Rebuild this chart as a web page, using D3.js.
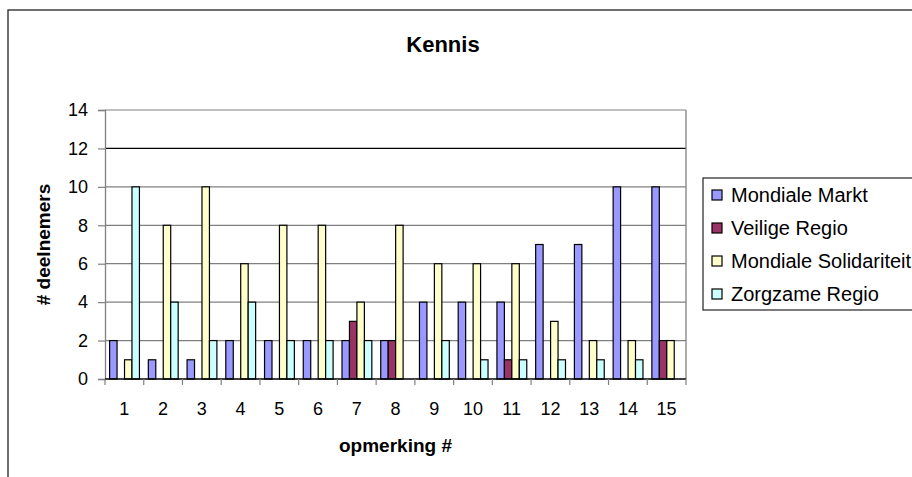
<!DOCTYPE html>
<html><head><meta charset="utf-8">
<script src="https://cdn.jsdelivr.net/npm/d3@7"></script>
<style>body{margin:0;background:#fff}svg{display:block;font-family:"Liberation Sans",Arial,sans-serif}</style>
</head><body><svg id="c" width="912" height="477"></svg>
<script>
const categories = ["1","2","3","4","5","6","7","8","9","10","11","12","13","14","15"];
const seriesNames = ["Mondiale Markt","Veilige Regio","Mondiale Solidariteit","Zorgzame Regio"];
const mondialeMarkt = [2,1,1,2,2,2,2,2,4,4,4,7,7,10,10];
const veiligeRegio = [0,0,0,0,0,0,3,2,0,0,1,0,0,0,2];
const mondialeSolidariteit = [1,8,10,6,8,8,4,8,6,6,6,3,2,2,2];
const zorgzameRegio = [10,4,2,4,2,2,2,0,2,1,1,1,1,1,0];
const yTicks = [0,2,4,6,8,10,12,14];
const colors = ["#9999FF","#993366","#FFFFCC","#CCFFFF"];
const values = [mondialeMarkt, veiligeRegio, mondialeSolidariteit, zorgzameRegio];

const svg = d3.select("#c");
const L=105, R=686, T=110, B=379;
// outer border
svg.append("rect").attr("x",8).attr("y",10).attr("width",930).attr("height",500)
  .attr("fill","none").attr("stroke","#222").attr("stroke-width",1.3);

const x0 = d3.scaleBand().domain(categories).range([L,R]).padding(0);
const x1 = d3.scaleBand().domain(seriesNames).range([4.6, x0.bandwidth()-4.3]).padding(0);
const y = d3.scaleLinear().domain([0,14]).range([B,T]);

// gridlines
svg.append("g").selectAll("line").data(yTicks.filter(d=>d>0)).join("line")
  .attr("x1",L).attr("x2",R).attr("y1",d=>y(d)).attr("y2",d=>y(d))
  .attr("stroke",d=>d===12?"#000":"#808080").attr("stroke-width",1.2);
// right border
svg.append("line").attr("x1",R).attr("x2",R).attr("y1",T).attr("y2",B).attr("stroke","#808080").attr("stroke-width",1.3);

// bars
const g = svg.append("g");
seriesNames.forEach((s,si)=>{
  g.selectAll(null).data(categories.map((c,i)=>({c,v:values[si][i]})).filter(d=>d.v>0)).join("rect")
    .attr("x",d=>x0(d.c)+x1(s)).attr("width",x1.bandwidth())
    .attr("y",d=>y(d.v)).attr("height",d=>y(0)-y(d.v))
    .attr("fill",colors[si]).attr("stroke","#000").attr("stroke-width",1.2);
});

// y axis
const ya = svg.append("g").attr("transform",`translate(${L},0)`)
  .call(d3.axisLeft(y).tickValues(yTicks).tickSize(7).tickPadding(10));
ya.select(".domain").attr("stroke","#808080").attr("stroke-width",1.3);
ya.selectAll(".tick line").attr("stroke","#808080").attr("stroke-width",1.2);
ya.selectAll("text").attr("font-size",18).attr("fill","#000").attr("font-family","Liberation Sans, Arial");

// x axis
const xa = svg.append("g").attr("transform",`translate(0,${B})`);
xa.append("line").attr("x1",L).attr("x2",R).attr("stroke","#000").attr("stroke-width",1.3);
xa.selectAll(".tk").data(d3.range(categories.length+1)).join("line")
  .attr("x1",i=>L+i*x0.bandwidth()).attr("x2",i=>L+i*x0.bandwidth()).attr("y1",0).attr("y2",6)
  .attr("stroke","#808080").attr("stroke-width",1.2);
xa.selectAll("text").data(categories).join("text")
  .attr("x",d=>x0(d)+x0.bandwidth()/2).attr("y",36).attr("text-anchor","middle")
  .attr("font-size",18).text(d=>d);

// titles
svg.append("text").attr("x",443).attr("y",52).attr("text-anchor","middle")
  .attr("font-size",22).attr("font-weight","bold").text("Kennis");
svg.append("text").attr("x",(L+R)/2).attr("y",452).attr("text-anchor","middle")
  .attr("font-size",19).attr("font-weight","bold").text("opmerking #");
svg.append("text").attr("transform",`translate(50,${(T+B)/2}) rotate(-90)`).attr("text-anchor","middle")
  .attr("font-size",19).attr("font-weight","bold").text("# deelnemers");

// legend
const lg = svg.append("g");
lg.append("rect").attr("x",703).attr("y",178).attr("width",260).attr("height",132)
  .attr("fill","#fff").attr("stroke","#222").attr("stroke-width",1.2);
seriesNames.forEach((s,i)=>{
  const cy = 195 + i*33;
  lg.append("rect").attr("x",712).attr("y",cy-5).attr("width",10).attr("height",10)
    .attr("fill",colors[i]).attr("stroke","#000").attr("stroke-width",1.2);
  lg.append("text").attr("x",731).attr("y",cy+7).attr("font-size",20).text(s);
});
</script></body></html>
